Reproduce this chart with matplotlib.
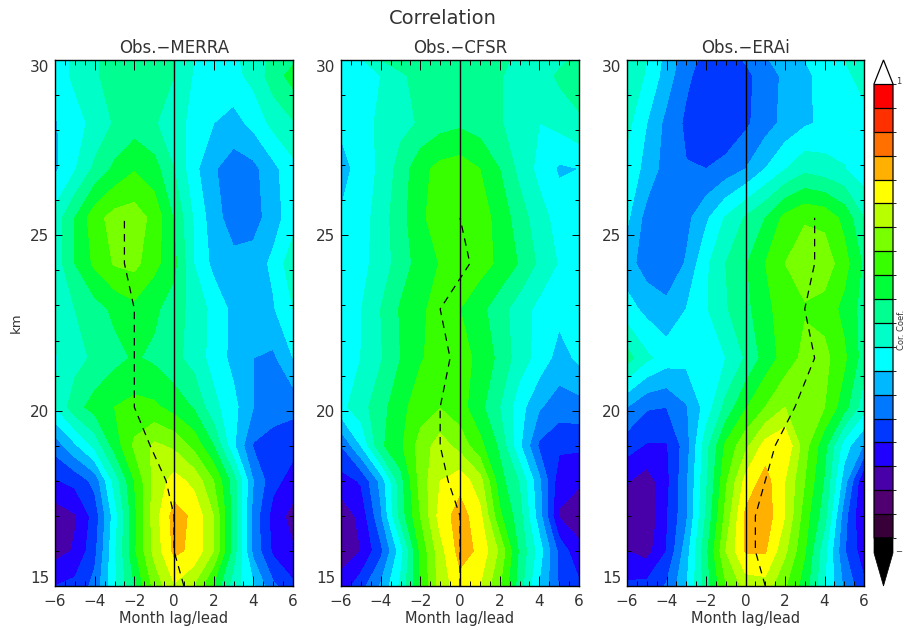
import numpy as np
import matplotlib
matplotlib.use("Agg")
import matplotlib.pyplot as plt
from matplotlib.colors import ListedColormap, BoundaryNorm
from matplotlib.cm import ScalarMappable
from matplotlib.patches import Polygon

W, H = 905, 630
plt.rcParams['font.family'] = ['DejaVu Sans']

lags = [-6, -5, -4, -3, -2, -1, 0, 1, 2, 3, 4, 5, 6]
heights = [15, 16, 17, 18, 19, 20.1, 21.5, 22.9, 24.2, 25.5, 26.9, 28.2, 29.55, 30]

# values read in contour-step units (0 = -1, 19 = +1), one row per height
merra_steps = [
    [4.0, 4.3, 5.3, 7.8, 10.0, 12.3, 13.9, 12.9, 10.8, 8.5, 7.1, 5.2, 4.2],
    [2.6, 3.1, 4.7, 7.8, 10.8, 13.3, 15.2, 14.8, 13.0, 9.5, 5.7, 3.8, 3.1],
    [2.4, 2.9, 4.4, 7.5, 10.7, 13.5, 15.4, 14.8, 13.0, 9.5, 5.6, 3.6, 2.6],
    [3.9, 4.3, 5.3, 8.4, 11.0, 13.3, 14.4, 13.7, 12.0, 9.5, 6.0, 4.3, 3.6],
    [5.4, 6.8, 8.3, 10.4, 12.2, 13.2, 12.8, 11.7, 10.0, 7.2, 4.9, 4.5, 4.3],
    [8.0, 9.6, 10.4, 11.0, 11.3, 11.2, 10.6, 9.9, 8.3, 7.3, 6.0, 5.5, 5.3],
    [7.9, 8.6, 9.2, 9.7, 10.1, 9.8, 9.3, 8.6, 7.6, 6.7, 6.0, 5.8, 7.0],
    [8.3, 9.0, 9.6, 10.2, 10.7, 10.2, 9.5, 8.6, 7.7, 6.7, 6.4, 6.9, 8.0],
    [8.4, 10.0, 11.2, 12.1, 12.3, 11.3, 10.3, 8.0, 6.7, 6.3, 6.5, 7.2, 8.7],
    [8.4, 10.0, 11.6, 12.4, 12.5, 11.7, 9.9, 7.9, 6.4, 5.5, 5.5, 6.6, 7.5],
    [6.8, 7.9, 9.2, 10.2, 10.9, 10.4, 9.0, 7.3, 6.1, 5.5, 5.7, 6.7, 7.7],
    [6.9, 7.6, 8.3, 9.1, 9.5, 9.1, 8.4, 7.7, 7.0, 6.6, 7.3, 8.3, 8.9],
    [7.5, 8.2, 8.9, 9.3, 9.5, 9.4, 9.0, 7.9, 7.6, 7.7, 8.3, 9.5, 10.4],
    [7.5, 8.2, 8.9, 9.3, 9.5, 9.4, 9.1, 8.0, 7.7, 7.8, 8.4, 9.3, 9.8],
]
cfsr_steps = [
    [3.4, 4.6, 6.1, 8.2, 11.0, 13.4, 14.6, 14.0, 12.1, 9.5, 6.9, 4.9, 4.2],
    [2.5, 3.0, 4.7, 7.5, 11.2, 13.6, 15.4, 14.8, 12.8, 9.8, 7.5, 4.7, 3.2],
    [2.3, 3.3, 5.8, 9.4, 12.0, 14.4, 15.5, 14.3, 11.2, 9.4, 6.4, 2.9, 2.6],
    [3.6, 4.1, 6.3, 9.6, 12.4, 14.0, 14.6, 13.4, 10.4, 8.9, 6.2, 3.4, 3.1],
    [5.0, 7.0, 9.8, 10.8, 12.4, 13.5, 12.6, 11.3, 9.8, 7.2, 4.8, 4.2, 4.2],
    [7.7, 8.6, 9.6, 10.7, 11.5, 11.95, 11.4, 10.3, 9.0, 7.4, 6.1, 5.5, 5.6],
    [7.1, 8.0, 8.9, 10.0, 10.9, 11.4, 11.3, 10.8, 9.7, 8.5, 7.6, 6.6, 7.2],
    [7.3, 7.95, 9.0, 10.1, 10.8, 11.4, 11.0, 10.3, 9.4, 8.5, 7.7, 7.3, 7.1],
    [7.2, 7.7, 8.4, 9.5, 10.4, 11.05, 11.4, 11.4, 10.8, 9.9, 8.8, 7.9, 7.4],
    [7.1, 7.5, 8.5, 9.6, 10.8, 11.5, 11.8, 11.5, 10.6, 9.5, 8.4, 7.6, 7.4],
    [6.6, 7.4, 8.2, 9.4, 10.7, 11.3, 11.5, 11.0, 10.0, 8.7, 7.7, 6.85, 7.0],
    [7.2, 7.6, 8.2, 8.7, 9.1, 9.6, 9.8, 9.5, 9.1, 8.5, 8.0, 8.3, 8.8],
    [7.3, 7.5, 8.0, 8.8, 9.4, 9.7, 9.8, 9.6, 9.1, 8.5, 8.4, 9.2, 9.6],
    [7.5, 7.9, 9.0, 9.5, 9.7, 9.8, 9.8, 9.6, 9.3, 8.7, 8.4, 8.7, 9.3],
]
erai_steps = [
    [4.2, 4.3, 5.1, 6.9, 9.5, 11.9, 13.4, 13.6, 12.1, 10.5, 8.1, 5.8, 4.2],
    [3.0, 2.6, 4.0, 6.5, 9.7, 13.0, 15.1, 15.1, 13.2, 11.1, 8.3, 5.1, 3.4],
    [2.3, 2.1, 3.9, 5.8, 9.1, 12.3, 15.2, 15.6, 14.0, 11.5, 9.4, 5.4, 2.9],
    [3.1, 2.5, 3.7, 5.8, 8.8, 11.8, 14.3, 15.4, 14.0, 12.0, 9.9, 6.5, 3.0],
    [4.4, 3.9, 3.9, 5.5, 8.6, 11.2, 12.7, 14.4, 14.9, 12.4, 10.3, 7.5, 5.9],
    [6.0, 5.1, 5.0, 5.9, 7.4, 9.3, 10.9, 12.0, 13.0, 12.7, 12.0, 10.4, 8.4],
    [9.4, 8.2, 7.5, 7.3, 7.6, 8.0, 9.1, 10.4, 11.4, 12.3, 12.3, 11.2, 9.5],
    [7.4, 6.7, 6.3, 7.0, 7.9, 8.9, 9.7, 10.7, 11.5, 11.9, 11.6, 10.7, 9.6],
    [6.4, 5.5, 5.2, 6.1, 7.8, 9.0, 9.9, 11.0, 12.0, 12.5, 12.6, 11.4, 9.8],
    [7.2, 5.6, 5.1, 5.7, 6.8, 8.1, 9.1, 10.0, 11.3, 11.9, 11.7, 10.7, 9.0],
    [7.6, 6.7, 5.5, 5.05, 5.0, 5.4, 6.0, 7.0, 7.95, 8.7, 8.4, 8.05, 7.4],
    [8.3, 7.0, 5.7, 4.8, 4.3, 4.1, 4.8, 5.55, 6.3, 6.85, 7.2, 7.5, 7.7],
    [8.6, 7.9, 6.5, 5.2, 4.5, 4.3, 4.7, 5.5, 6.2, 6.8, 7.3, 7.8, 8.3],
    [8.7, 8.0, 6.65, 5.4, 4.7, 4.5, 5.1, 5.9, 6.4, 7.0, 7.5, 8.0, 8.6],
]

# month of peak correlation at each height
peak_heights = [15, 16, 17, 18, 19, 20.1, 21.5, 22.9, 24.2, 25.5]
merra_peak = [0.5, 0, 0, -0.4, -1.2, -2, -2, -2, -2.5, -2.5]
cfsr_peak = [0, 0, 0, -0.6, -1, -1, -0.5, -1, 0.5, 0]
erai_peak = [1, 0.5, 0.5, 1, 1.5, 2.5, 3.5, 3, 3.5, 3.5]

titles = ["Obs.\u2212MERRA", "Obs.\u2212CFSR", "Obs.\u2212ERAi"]
panel_steps = [merra_steps, cfsr_steps, erai_steps]
panel_peaks = [merra_peak, cfsr_peak, erai_peak]
panel_left = [55, 341, 627]
panel_right = [293, 579, 864]

band_colors = ['#380038', '#500070', '#4800a8', '#2000ff', '#0038ff', '#0078ff',
               '#00b8ff', '#00ffff', '#00ffc8', '#00ff90', '#00ff38', '#38ff00',
               '#78ff00', '#b8ff00', '#ffff00', '#ffb000', '#ff7000', '#ff3000',
               '#ff0000']
levels = np.linspace(-1, 1, 20)
cmap = ListedColormap(band_colors)
cmap.set_under('black')
cmap.set_over('white')
norm = BoundaryNorm(levels, cmap.N)

INK = '#333333'
fig = plt.figure(figsize=(W / 100, H / 100), dpi=100)


def box(l, t, r, b):
    return [l / W, 1 - b / H, (r - l) / W, (b - t) / H]


for i in range(3):
    ax = fig.add_axes(box(panel_left[i], 60, panel_right[i], 586))
    corr = -1 + np.array(panel_steps[i]) * 2 / 19
    ax.contourf(lags, heights, corr, levels=levels, cmap=cmap, norm=norm, extend='both')
    ax.axvline(0, color='black', lw=1.0)
    ax.plot(panel_peaks[i], peak_heights, color='black', lw=0.9, dashes=(6, 4.5))
    ax.set_xlim(-6, 6)
    ax.set_ylim(15, 30)
    ax.set_xticks([-6, -4, -2, 0, 2, 4, 6])
    ax.set_xticks(np.arange(-6, 6.01, 0.5), minor=True)
    ax.set_yticks([15, 20, 25, 30])
    ax.set_yticks(range(15, 31), minor=True)
    ax.tick_params(axis='x', which='major', direction='in', top=True, length=7.2, width=0.7,
                   labelsize=11, labelcolor=INK, pad=6)
    ax.tick_params(axis='x', which='minor', direction='in', top=True, length=3.4, width=0.7)
    ax.tick_params(axis='y', which='major', direction='in', right=True, length=5, width=0.7,
                   labelsize=11, labelcolor=INK, pad=4)
    ax.tick_params(axis='y', which='minor', direction='in', right=True, length=3, width=0.7)
    ylabels = ax.get_yticklabels()
    ylabels[0].set_verticalalignment('bottom')
    ylabels[-1].set_verticalalignment('top')
    for s in ax.spines.values():
        s.set_linewidth(1.0)
    ax.set_xlabel("Month lag/lead", fontsize=10.5, color=INK, labelpad=1)
    ax.set_title(titles[i], fontsize=12, color=INK, pad=5)
    if i == 0:
        ax.set_ylabel("km", fontsize=9.5, color=INK, labelpad=5)

fig.text(443 / W, 1 - 18 / H, "Correlation", fontsize=14, color=INK, ha='center', va='center')

cax = fig.add_axes(box(874, 60, 893, 538))
cb = fig.colorbar(ScalarMappable(norm=norm, cmap=cmap), cax=cax, extend='max',
                  extendfrac=24 / 454, drawedges=True, spacing='uniform')
cb.set_ticks([])
cb.outline.set_linewidth(0.9)
cb.dividers.set_linewidth(0.9)
under_tip = [(874, 538), (893, 538), (893, 553), (883.5, 586), (874, 553)]
fig.add_artist(Polygon([(x / W, 1 - y / H) for x, y in under_tip], closed=True,
                       transform=fig.transFigure, facecolor='black', edgecolor='black', lw=0.5))
fig.text(899 / W, 1 - 81 / H, "1", fontsize=6, color=INK, ha='center', va='center')
fig.text(899 / W, 1 - 552 / H, "\u2212", fontsize=6, color=INK, ha='center', va='center')
fig.text(901 / W, 1 - 330 / H, "Cor. Coef.", fontsize=6, color=INK, rotation=90, ha='center', va='center')

fig.savefig("out.png", dpi=100)
